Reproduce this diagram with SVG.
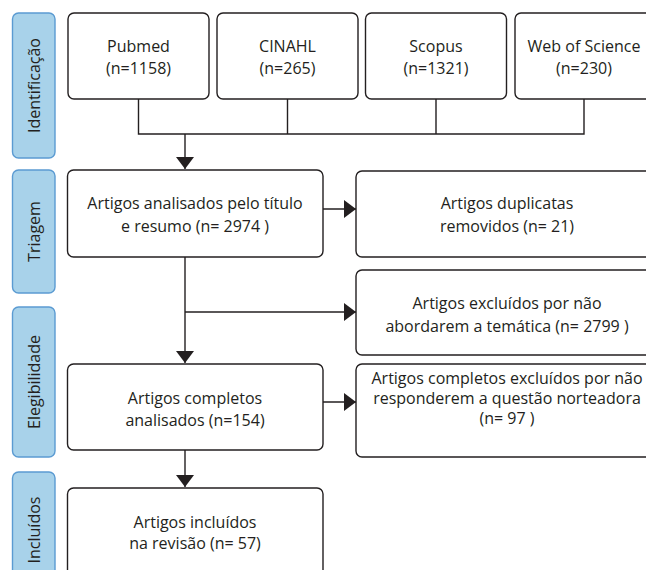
<svg xmlns="http://www.w3.org/2000/svg" width="646" height="570" viewBox="0 0 646 570">
<style>
.box{fill:#fff;stroke:#231f20;stroke-width:1.4}
.side{fill:#a8d2ea;stroke:#5b9bd2;stroke-width:1.4}
.t{font-family:"Open Sans","Noto Sans",sans-serif;font-size:16px;fill:#231f20;text-anchor:middle}
.ln{fill:none;stroke:#231f20;stroke-width:1.4}
</style>
<defs>
<marker id="ahd" markerWidth="12" markerHeight="18" viewBox="0 0 12 18" refX="12" refY="9" orient="auto" markerUnits="userSpaceOnUse">
<path d="M0,0 L12,9 L0,18 Z" fill="#231f20"/>
</marker>
</defs>

<g id="stage-identificacao">
<rect class="side" x="12.5" y="13" width="42.5" height="145" rx="6"/>
<text class="t" transform="translate(39.5,85.5) rotate(-90)">Identificação</text>
</g>
<g id="stage-triagem">
<rect class="side" x="12.5" y="170" width="42.5" height="123" rx="6"/>
<text class="t" transform="translate(39.5,231.5) rotate(-90)">Triagem</text>
</g>
<g id="stage-elegibilidade">
<rect class="side" x="12.5" y="307" width="42.5" height="150" rx="6"/>
<text class="t" transform="translate(39.5,382) rotate(-90)">Elegibilidade</text>
</g>
<g id="stage-incluidos">
<rect class="side" x="12.5" y="472" width="42.5" height="110" rx="6"/>
<text class="t" transform="translate(39.5,530) rotate(-90)">Incluídos</text>
</g>

<g id="pubmed">
<rect class="box" x="68" y="13" width="141" height="86" rx="6"/>
<text class="t" x="138.5" y="52">Pubmed</text>
<text class="t" x="138.5" y="74">(n=1158)</text>
</g>
<g id="cinahl">
<rect class="box" x="217" y="13" width="141" height="86" rx="6"/>
<text class="t" x="287.5" y="52">CINAHL</text>
<text class="t" x="287.5" y="74">(n=265)</text>
</g>
<g id="scopus">
<rect class="box" x="365.5" y="13" width="141" height="86" rx="6"/>
<text class="t" x="436" y="52">Scopus</text>
<text class="t" x="436" y="74">(n=1321)</text>
</g>
<g id="wos">
<rect class="box" x="515" y="13" width="141" height="86" rx="6"/>
<text class="t" x="584" y="52">Web of Science</text>
<text class="t" x="584" y="74">(n=230)</text>
</g>

<g id="triagem-box">
<rect class="box" x="67.5" y="170" width="255.5" height="87" rx="6"/>
<text class="t" x="195" y="208.5">Artigos analisados pelo título</text>
<text class="t" x="195" y="232">e resumo (n= 2974 )</text>
</g>
<g id="duplicatas">
<rect class="box" x="356" y="171" width="304" height="86" rx="6"/>
<text class="t" x="507" y="208.5">Artigos duplicatas</text>
<text class="t" x="507" y="232">removidos (n= 21)</text>
</g>
<g id="excluidos">
<rect class="box" x="356" y="270" width="304" height="85" rx="6"/>
<text class="t" x="507" y="308.5">Artigos excluídos por não</text>
<text class="t" x="507" y="332">abordarem a temática (n= 2799 )</text>
</g>
<g id="completos">
<rect class="box" x="67.5" y="364" width="255.5" height="86" rx="6"/>
<text class="t" x="195" y="403.5">Artigos completos</text>
<text class="t" x="195" y="426">analisados (n=154)</text>
</g>
<g id="completos-excluidos">
<rect class="box" x="356" y="364" width="304" height="93" rx="6"/>
<text class="t" x="507" y="384">Artigos completos excluídos por não</text>
<text class="t" x="507" y="404">responderem a questão norteadora</text>
<text class="t" x="507" y="424">(n= 97 )</text>
</g>
<g id="incluidos-box">
<rect class="box" x="67.5" y="488" width="255.5" height="100" rx="6"/>
<text class="t" x="195" y="527.5">Artigos incluídos</text>
<text class="t" x="195" y="549">na revisão (n= 57)</text>
</g>

<g id="connectors">
<path class="ln" d="M138.5,99 V134 H584 V99 M287.5,99 V134 M436,99 V134"/>
<path class="ln" d="M185,134 V169" marker-end="url(#ahd)"/>
<path class="ln" d="M323,209 H356" marker-end="url(#ahd)"/>
<path class="ln" d="M185,257 V363" marker-end="url(#ahd)"/>
<path class="ln" d="M185,312 H356" marker-end="url(#ahd)"/>
<path class="ln" d="M323,402 H356" marker-end="url(#ahd)"/>
<path class="ln" d="M185,450 V487" marker-end="url(#ahd)"/>
</g>
</svg>
